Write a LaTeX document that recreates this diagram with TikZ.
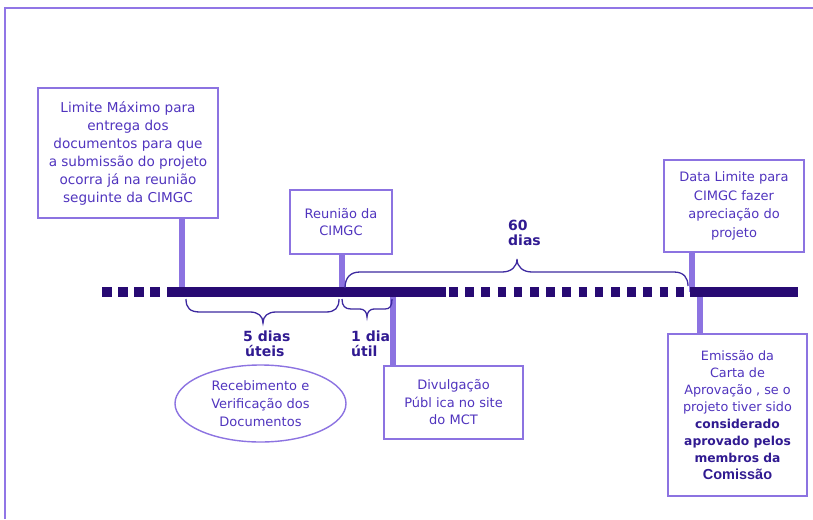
\documentclass[tikz,border=0pt]{standalone}
\usepackage{fontspec}
\setmainfont{DejaVu Sans}
\newfontfamily\arialfont{Liberation Sans}
\usetikzlibrary{shapes.geometric}

\definecolor{boxc}{RGB}{140,115,225}
\definecolor{txtc}{RGB}{80,52,190}
\definecolor{boldc}{RGB}{48,26,145}
\definecolor{linec}{RGB}{40,10,115}
\definecolor{bracec}{RGB}{62,42,160}
\definecolor{framec}{RGB}{145,118,230}

\begin{document}
\begin{tikzpicture}[x=1pt,y=-1pt,
  box/.style={draw=boxc,line width=2.5pt,align=center,text=txtc,
    font=\fontsize{13}{17.5}\selectfont,inner sep=0pt},
  ellbox/.style={ellipse,draw=boxc,line width=1.4pt,align=center,text=txtc,
    font=\fontsize{13}{18}\selectfont,inner sep=0pt},
  stem/.style={draw=boxc,line width=5.5pt},
  tlsolid/.style={draw=linec,line width=10pt},
  tldash/.style={draw=linec,line width=10pt,dash pattern=on 10pt off 6pt},
  tldashb/.style={draw=linec,line width=10pt,dash pattern=on 8.5pt off 7.7pt},
  brc/.style={draw=bracec,line width=1.3pt},
  lbl/.style={align=left,text=boldc,inner sep=0pt,
    font=\fontsize{14}{15.5}\selectfont\bfseries}
]
\useasboundingbox (0,0) rectangle (813,519);
\draw[framec,line width=1.5pt] (5,519) -- (5,8) -- (813,8);

% boxes
\node[box,minimum width=180pt,minimum height=130pt,font=\fontsize{13.6}{18}\selectfont] (b1) at (128,153)
  {Limite Máximo para\\entrega dos\\documentos para que\\a submissão do projeto\\ocorra já na reunião\\seguinte da CIMGC};
\node[box,minimum width=102pt,minimum height=64pt] (b2) at (341,222)
  {Reunião da\\CIMGC};
\node[box,minimum width=140pt,minimum height=92pt,font=\fontsize{13}{18.5}\selectfont] (b3) at (734,206)
  {Data Limite para\\CIMGC fazer\\apreciação do\\projeto};
\node[box,minimum width=139pt,minimum height=73pt] (b4) at (453.5,402.5)
  {Divulgação\\Públ ica no site\\do MCT};
\node[box,minimum width=139pt,minimum height=162pt,font=\fontsize{12.8}{17}\selectfont] (b5) at (737.5,415)
  {Emissão da\\Carta de\\Aprovação , se o\\projeto tiver sido\\
   \textcolor{boldc}{\bfseries\fontsize{12.3}{17}\selectfont considerado}\\
   \textcolor{boldc}{\bfseries\fontsize{12.3}{17}\selectfont aprovado pelos}\\
   \textcolor{boldc}{\bfseries\fontsize{12.3}{17}\selectfont membros da}\\
   \textcolor{boldc}{\arialfont\bfseries\fontsize{14.5}{17}\selectfont Comissão}};
\node[ellbox,minimum width=171pt,minimum height=77pt] (e1) at (260.5,403.5)
  {Recebimento e\\Verificação dos\\Documentos};

% timeline coordinates
\coordinate (t1) at (182,292);
\coordinate (t2) at (342,292);
\coordinate (t3) at (692,292);
\coordinate (t4) at (393,292);
\coordinate (t5) at (700,292);

% stems
\draw[stem] (b1.south -| t1) -- (t1);
\draw[stem] (b2.south -| t2) -- (t2);
\draw[stem] (b3.south -| t3) -- (t3);
\draw[stem] (t4) -- (b4.north -| t4);
\draw[stem] (t5) -- (b5.north -| t5);

% timeline
\coordinate (l0) at (102,292);
\coordinate (l1) at (161,292);
\coordinate (l2) at (167,292);
\coordinate (l3) at (446,292);
\coordinate (l4) at (449,292);
\coordinate (l5) at (686,292);
\coordinate (l6) at (690,292);
\coordinate (l7) at (798,292);
\draw[tldash] (l0) -- (l1);
\draw[tlsolid] (l2) -- (l3);
\draw[tldashb] (l4) -- (l5);
\draw[tlsolid] (l6) -- (l7);

% braces
\draw[brc] (186,299) .. controls (186,308) and (190,312) .. (200,312) -- (250,312)
  .. controls (258,312) and (263,316) .. (263,323)
  .. controls (263,316) and (268,312) .. (276,312) -- (326,312)
  .. controls (335,312) and (339,308) .. (339,299);
\draw[brc] (342,299) .. controls (342,306) and (345,309) .. (351,309) -- (360,309)
  .. controls (364,309) and (367,312) .. (367,317)
  .. controls (367,312) and (370,309) .. (374,309) -- (385,309)
  .. controls (390,309) and (392,306) .. (392,299);
\draw[brc] (345,288) .. controls (345,278) and (350,272) .. (360,272) -- (502,272)
  .. controls (511,272) and (517,267) .. (517,259)
  .. controls (517,267) and (523,272) .. (532,272) -- (674,272)
  .. controls (684,272) and (688,278) .. (688,286);

% labels
\node[lbl,anchor=west] (L60) at (508,233) {60\\dias};
\node[lbl,anchor=west] (L5) at (243,344) {5 dias\\\hspace*{2pt}úteis};
\node[lbl,anchor=west] (L1) at (351,344) {1 dia\\útil};
\end{tikzpicture}
\end{document}
